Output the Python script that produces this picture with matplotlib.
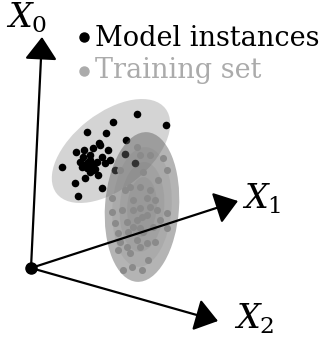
import numpy as np
import matplotlib
matplotlib.use('Agg')
import matplotlib.pyplot as plt
from matplotlib.patches import Ellipse

matplotlib.rcParams['mathtext.fontset'] = 'dejavuserif'

# 图中坐标（像素，y 向下）
ORIGIN = (31, 268)
AXIS_TIPS = {'x0': (42, 37), 'x1': (238, 201), 'x2': (218, 321)}
AXIS_LABELS = {'x0': r'$X_{\mathit{0}}$', 'x1': r'$X_{\mathit{1}}$', 'x2': r'$X_{\mathit{2}}$'}
LABEL_POS = {'x0': (27, 18), 'x1': (262, 199), 'x2': (254, 319)}

# 两个分布椭圆：中心、宽、高、角度
model_ell = dict(xy=(111, 151), width=138, height=76, angle=-38)
train_ell = dict(xy=(142, 207), width=74, height=150, angle=4)

# 模型实例（黑点）
model_x = np.array([137, 166, 113, 87, 106, 126, 99, 76, 93, 108, 83, 90, 80, 93,
                    102, 110, 87, 62, 115, 98, 85, 75, 102, 78, 125, 135, 90, 95,
                    105, 87, 82, 90, 97, 84, 100, 93])
model_y = np.array([114, 125, 122, 132, 133, 140, 143, 152, 148, 150, 157, 160, 162, 165,
                    157, 160, 168, 167, 170, 175, 178, 183, 188, 196, 154, 163, 172, 169,
                    163, 163, 167, 155, 162, 150, 145, 170])

# 训练集（灰点）
train_x = np.array([137, 140, 150, 163, 167, 120, 143, 158, 130, 140, 112, 133, 147, 155,
                    122, 112, 133, 140, 150, 157, 167, 127, 137, 142, 147, 133, 140, 153,
                    167, 118, 128, 143, 120, 137, 147, 155, 127, 140, 118, 130, 148, 132,
                    123, 142, 115, 160, 125, 150])
train_y = np.array([147, 155, 155, 158, 170, 170, 172, 180, 187, 187, 198, 200, 198, 200,
                    210, 212, 210, 208, 207, 210, 213, 222, 220, 217, 215, 227, 228, 227,
                    228, 233, 232, 232, 242, 240, 243, 242, 247, 247, 250, 253, 260, 267,
                    270, 270, 223, 220, 190, 190])

fig = plt.figure(figsize=(3.26, 3.39), dpi=100)
ax = fig.add_axes([0, 0, 1, 1])
ax.set_xlim(0, 326)
ax.set_ylim(339, 0)
ax.axis('off')

ax.add_patch(Ellipse(facecolor='#d4d4d4', edgecolor='none', zorder=1, **model_ell))
ax.scatter(model_x, model_y, s=30, color='black', zorder=2, linewidths=0)

# 训练集椭圆：叠几层做中心渐深
ax.add_patch(Ellipse(facecolor='#606060', edgecolor='none', alpha=0.47, zorder=3, **train_ell))
for sc in (0.8, 0.6, 0.4):
    e = dict(train_ell)
    e['width'] *= sc
    e['height'] *= sc
    ax.add_patch(Ellipse(facecolor='#606060', edgecolor='none', alpha=0.11, zorder=3, **e))
ax.scatter(train_x, train_y, s=26, color='#8a8a8a', zorder=4, linewidths=0)

for k, tip in AXIS_TIPS.items():
    ax.annotate('', xy=tip, xytext=ORIGIN, zorder=5,
                arrowprops=dict(arrowstyle='-|>,head_length=1.4,head_width=1.0',
                                color='black', lw=1.6, shrinkA=0, shrinkB=0))
    ax.text(*LABEL_POS[k], AXIS_LABELS[k], fontsize=24, ha='center', va='center', zorder=6)

ax.plot(*ORIGIN, 'o', color='black', markersize=8, zorder=7)

# 图例
ax.plot(84, 37, 'o', color='black', markersize=6.5)
ax.text(95, 46, 'Model instances', fontsize=19.5, family='DejaVu Serif', va='baseline', color='black')
ax.plot(84, 71, 'o', color='#ababab', markersize=6.5)
ax.text(95, 78, 'Training set', fontsize=19.5, family='DejaVu Serif', va='baseline', color='#ababab')

plt.savefig('out.png', dpi=100)
